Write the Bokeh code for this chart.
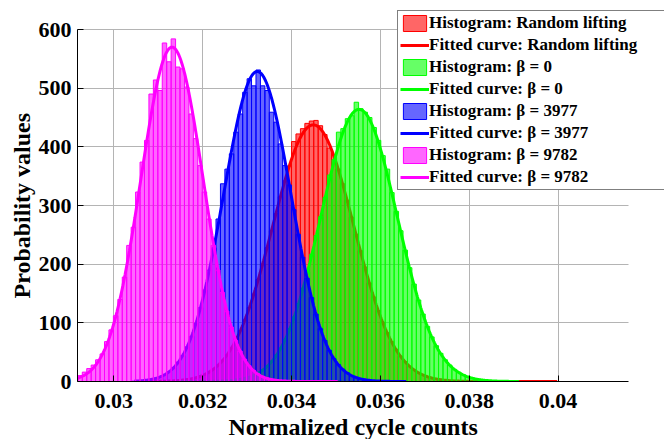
import numpy as np
from bokeh.plotting import figure
from bokeh.models import (ColumnDataSource, Legend, LegendItem, FixedTicker,
                          NumeralTickFormatter, Title)
from bokeh.embed import file_html
from bokeh.resources import INLINE

# ---------------- data ----------------
bin_width = 0.0001
series_labels = ["Random lifting", "\u03b2 = 0", "\u03b2 = 3977", "\u03b2 = 9782"]
colors = ["#ff0000", "#00ff00", "#0000ff", "#ff00ff"]

# first bin edge of each histogram
red_first_edge = 0.03070
green_first_edge = 0.03141
blue_first_edge = 0.03040
magenta_first_edge = 0.02909

# probability values (bar heights)
red_hist = [0.1, 0.15, 0.2, 0.4, 0.5, 0.8, 1.2, 1.7, 2.4, 3.4,
            4.8, 6.6, 9, 12, 16, 21, 28, 36, 45, 57,
            71, 87, 105, 126, 149, 174, 200, 228, 257, 286,
            315, 342, 367, 409, 422, 431, 440, 444, 445, 436,
            421, 398, 385, 362, 337, 309, 280, 251, 223, 195,
            168, 144, 121, 101, 83, 68, 55, 43, 34, 26,
            20, 15, 11.5, 8.5, 6.2, 4.5, 3.2, 2.3, 1.6, 1.1,
            0.7, 0.5, 0.3, 0.2, 0.15, 0.1, 0.1, 0.05, 0.05, 0.05,
            0.03, 0.03, 0, 0, 0.03, 0, 0, 0, 0.03, 0, 0, 0, 0.03]
green_hist = [0.01, 0.01, 0.02, 0.03, 0.05, 0.08, 0.12, 0.2, 0.3, 0.5,
              0.8, 1.2, 1.8, 2.7, 3.9, 5.5, 7.8, 10.7, 14.7, 19.8,
              26, 35, 45, 57, 72, 90, 110, 133, 159, 187,
              217, 249, 281, 314, 352, 378, 425, 431, 448, 453,
              476, 465, 459, 450, 433, 411, 385, 362, 322, 290,
              257, 224, 194, 166, 139, 115, 94, 76, 61, 48,
              37, 28, 21, 16, 11.5, 8.5, 6, 4.3, 3, 2,
              1.3, 0.9, 0.6, 0.4, 0.25, 0.15, 0.1]
blue_hist = [0.6, 1.0, 1.5, 2.4, 3.7, 5.5, 8.2, 12, 17, 24,
             33, 44, 59, 77, 99, 126, 156, 190, 228, 277,
             337, 362, 388, 425, 456, 493, 516, 504, 531, 504,
             496, 459, 442, 405, 368, 335, 293, 251, 212, 176,
             143, 115, 90, 70, 53, 39, 29, 21, 15, 10,
             7, 4.7, 3.1, 2.0, 1.3, 0.8, 0.5, 0.3, 0.2, 0.1,
             0.1, 0.1]
magenta_hist = [6, 10, 16, 22, 28, 37, 47, 68, 88, 112,
                140, 178, 232, 263, 323, 374, 411, 490, 514, 496,
                577, 545, 584, 536, 533, 502, 456, 414, 368, 323,
                277, 232, 190, 152, 120, 93, 70, 52, 38, 27,
                19, 13, 9, 6, 4, 2.5, 1.5, 1, 0.6, 0.4,
                0.3, 0.2, 0.1, 0.1, 0.1, 0.05, 0.05, 0.05, 0.05]

# fitted normal distributions: mean, standard deviation, data range
fit_mean = [0.03449, 0.03552, 0.03323, 0.03131]
fit_std = [0.000912, 0.00086, 0.000755, 0.000700]
fit_xmin = [0.03079, 0.03147, 0.03046, 0.02890]
fit_xmax = [0.03998, 0.03912, 0.03658, 0.03504]

x_axis_limits = (0.029182, 0.041586)
y_axis_limits = (0, 600)
x_ticks = [0.03, 0.032, 0.034, 0.036, 0.038, 0.04]
y_ticks = [0, 100, 200, 300, 400, 500, 600]
x_title = "Normalized cycle counts"
y_title = "Probability values"

hists = [red_hist, green_hist, blue_hist, magenta_hist]
first_edges = [red_first_edge, green_first_edge, blue_first_edge, magenta_first_edge]

# ---------------- figure ----------------
# The frame is extended to the right and to the top so that the legend
# (which overlaps the axes box in the original) is not clipped; axes and
# grid lines are bounded to the original axes box.
FONT = "Liberation Serif"
FRAME_W, FRAME_H = 587, 381
AX_W, AX_H = 551, 352
x_end = x_axis_limits[0] + (x_axis_limits[1] - x_axis_limits[0]) * FRAME_W / AX_W
y_end = y_axis_limits[1] * FRAME_H / AX_H

p = figure(frame_width=FRAME_W, frame_height=FRAME_H,
           min_border_left=77, min_border_right=0,
           min_border_top=0, min_border_bottom=58,
           x_range=(x_axis_limits[0], x_end), y_range=(0, y_end),
           output_backend="svg", toolbar_location=None,
           background_fill_color="white", border_fill_color="white")
p.outline_line_color = None

items = []
for lab, col, h, e0, mu, sd, x0, x1 in zip(series_labels, colors, hists, first_edges,
                                            fit_mean, fit_std, fit_xmin, fit_xmax):
    left = e0 + bin_width * np.arange(len(h))
    src = ColumnDataSource(dict(left=left, right=left + bin_width, top=h))
    rq = p.quad(left="left", right="right", top="top", bottom=0, source=src,
                fill_color=col, fill_alpha=0.6, line_color=col, line_width=1)
    xs = np.linspace(x0, x1, 500)
    ys = np.exp(-(xs - mu) ** 2 / (2 * sd ** 2)) / (sd * np.sqrt(2 * np.pi))
    rl = p.line(xs, ys, line_color=col, line_width=3)
    items.append(LegendItem(label="Histogram: " + lab, renderers=[rq]))
    items.append(LegendItem(label="Fitted curve: " + lab, renderers=[rl]))

# axes
for ax in (p.xaxis[0], p.yaxis[0]):
    ax.axis_line_color = "black"
    ax.axis_line_width = 1
    ax.major_tick_line_color = "black"
    ax.major_tick_in = 6
    ax.major_tick_out = 0
    ax.minor_tick_line_color = None
    ax.major_label_text_font = FONT
    ax.major_label_text_font_style = "bold"
    ax.major_label_text_font_size = "22px"
    ax.major_label_text_color = "black"

p.xaxis[0].bounds = x_axis_limits
p.yaxis[0].bounds = y_axis_limits
p.xaxis[0].ticker = FixedTicker(ticks=x_ticks)
p.xaxis[0].formatter = NumeralTickFormatter(format="0.[000]")
p.xaxis[0].major_label_standoff = 12
p.yaxis[0].ticker = FixedTicker(ticks=y_ticks)
p.yaxis[0].major_label_standoff = 6

# axis titles, centred on the bounded axes box
xt = Title(text=x_title, align="left", offset=151, standoff=6,
           vertical_align="top", text_font=FONT, text_font_style="bold",
           text_font_size="24px", text_color="black")
p.add_layout(xt, "below")
yt = Title(text=y_title, align="left", offset=83, standoff=2,
           vertical_align="bottom", text_font=FONT, text_font_style="bold",
           text_font_size="24px", text_color="black")
p.add_layout(yt, "left")

p.xgrid.grid_line_color = "#b4b4b4"
p.ygrid.grid_line_color = "#b4b4b4"
p.xgrid.grid_line_width = 1
p.ygrid.grid_line_width = 1
p.xgrid.bounds = x_axis_limits
p.ygrid.bounds = y_axis_limits
p.xgrid.cross_bounds = y_axis_limits
p.ygrid.cross_bounds = x_axis_limits

legend = Legend(items=items, location=(320, 191), orientation="vertical",
                border_line_color="black", border_line_width=1,
                background_fill_color="white", background_fill_alpha=1.0,
                padding=2, margin=0, spacing=2,
                glyph_width=29, glyph_height=20, label_height=20,
                label_width=262, label_standoff=0,
                label_text_font=FONT, label_text_font_style="bold",
                label_text_font_size="17px", label_text_color="black")
p.add_layout(legend, "center")

open("out.html", "w").write(file_html(p, INLINE))
